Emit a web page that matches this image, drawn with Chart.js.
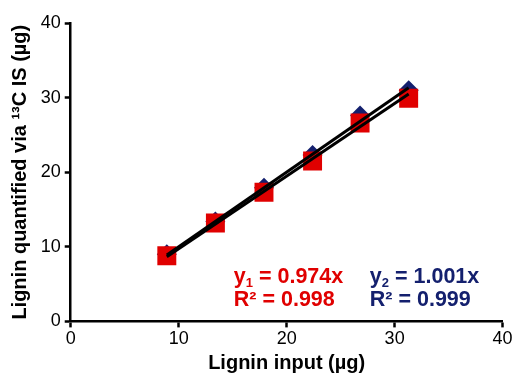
<!DOCTYPE html>
<html>
<head>
<meta charset="utf-8">
<script src="https://cdn.jsdelivr.net/npm/chart.js@4.4.1/dist/chart.umd.min.js"></script>
<style>
  html, body { margin: 0; padding: 0; background: #fff; overflow: hidden; }
  #wrap { width: 516px; height: 377px; }
  canvas { display: block; }
</style>
</head>
<body>
<div id="wrap"><canvas id="chart"></canvas></div>
<script>
// data
const ligninInput = [8.9, 13.4, 17.9, 22.4, 26.8, 31.3];
const quantRed = [8.8, 13.2, 17.3, 21.5, 26.6, 29.9];   // y1 series (squares)
const quantBlue = [9.0, 13.4, 17.9, 22.3, 27.6, 31.0];  // y2 series (diamonds)
const slopeRed = 0.974;
const slopeBlue = 1.001;
const xTicks = [0, 10, 20, 30, 40];
const yTicks = [0, 10, 20, 30, 40];

const RED = '#e00000';
const NAVY = '#14206e';

const pts = (xs, ys) => xs.map((x, i) => ({ x: x, y: ys[i] }));
const xMin = Math.min(...ligninInput);
const xMax = Math.max(...ligninInput);
const trend = k => [{ x: xMin, y: k * xMin }, { x: xMax, y: k * xMax }];

// equations written into the plot
const eqPlugin = {
    id: 'equations',
    afterDatasetsDraw(chart) {
        const { ctx, scales } = chart;
        const big = 'bold 21.5px "Liberation Sans", Arial, sans-serif';
        const small = 'bold 13px "Liberation Sans", Arial, sans-serif';
        const put = (dx, dy, main, sub, rest, color) => {
            let px = scales.x.getPixelForValue(dx);
            const py = scales.y.getPixelForValue(dy);
            ctx.save();
            ctx.fillStyle = color;
            ctx.textBaseline = 'alphabetic';
            ctx.font = big;
            ctx.fillText(main, px, py);
            px += ctx.measureText(main).width;
            if (sub) {
                ctx.font = small;
                ctx.fillText(sub, px, py + 4);
                px += ctx.measureText(sub).width;
                ctx.font = big;
            }
            ctx.fillText(rest, px, py);
            ctx.restore();
        };
        put(15.1, 5.2, 'y', '1', ' = ' + slopeRed.toFixed(3) + 'x', RED);
        put(15.1, 2.0, 'R² = 0.998', '', '', RED);
        put(27.7, 5.2, 'y', '2', ' = ' + slopeBlue.toFixed(3) + 'x', NAVY);
        put(27.7, 2.0, 'R² = 0.999', '', '', NAVY);
    }
};

Chart.defaults.font.family = '"Liberation Sans", Arial, sans-serif';
Chart.defaults.color = '#000';

new Chart(document.getElementById('chart'), {
    type: 'scatter',
    data: {
        datasets: [
            {
                type: 'line', data: trend(slopeBlue), borderColor: '#000', borderWidth: 3,
                pointRadius: 0, fill: false, order: 0
            },
            {
                type: 'line', data: trend(slopeRed), borderColor: '#000', borderWidth: 3,
                pointRadius: 0, fill: false, order: 0
            },
            {
                data: pts(ligninInput, quantRed), pointStyle: 'rect', pointRadius: 13.4,
                backgroundColor: RED, borderWidth: 0, order: 1
            },
            {
                data: pts(ligninInput, quantBlue), pointStyle: 'rectRot', pointRadius: 10,
                backgroundColor: NAVY, borderWidth: 0, order: 2
            }
        ]
    },
    options: {
        responsive: true,
        maintainAspectRatio: false,
        animation: false,
        layout: { padding: { top: 23, right: 0, left: 8.7, bottom: 2 } },
        plugins: { legend: { display: false }, tooltip: { enabled: false } },
        scales: {
            x: {
                type: 'linear', min: 0, max: 40,
                afterBuildTicks: s => { s.ticks = xTicks.map(v => ({ value: v })); },
                afterFit: s => { s.paddingLeft = 0; s.paddingRight = 9; },
                grid: { drawOnChartArea: false, tickLength: 6, tickWidth: 2.5, tickColor: '#000' },
                border: { color: '#000', width: 2.5 },
                ticks: { font: { size: 18 }, color: '#000', padding: 1, maxRotation: 0 },
                title: { display: true, text: 'Lignin input (µg)', font: { size: 20, weight: 'bold' }, color: '#000', padding: { top: 0, bottom: 0 } }
            },
            y: {
                type: 'linear', min: 0, max: 40,
                afterBuildTicks: s => { s.ticks = yTicks.map(v => ({ value: v })); },
                grid: { drawOnChartArea: false, tickLength: 6, tickWidth: 2.5, tickColor: '#000' },
                border: { color: '#000', width: 2.5 },
                ticks: { font: { size: 18 }, color: '#000', padding: 4 },
                title: { display: true, text: 'Lignin quantified via ¹³C IS (µg)', font: { size: 20, weight: 'bold' }, color: '#000', padding: { top: 0, bottom: 4 } }
            }
        }
    },
    plugins: [eqPlugin]
});
</script>
</body>
</html>
